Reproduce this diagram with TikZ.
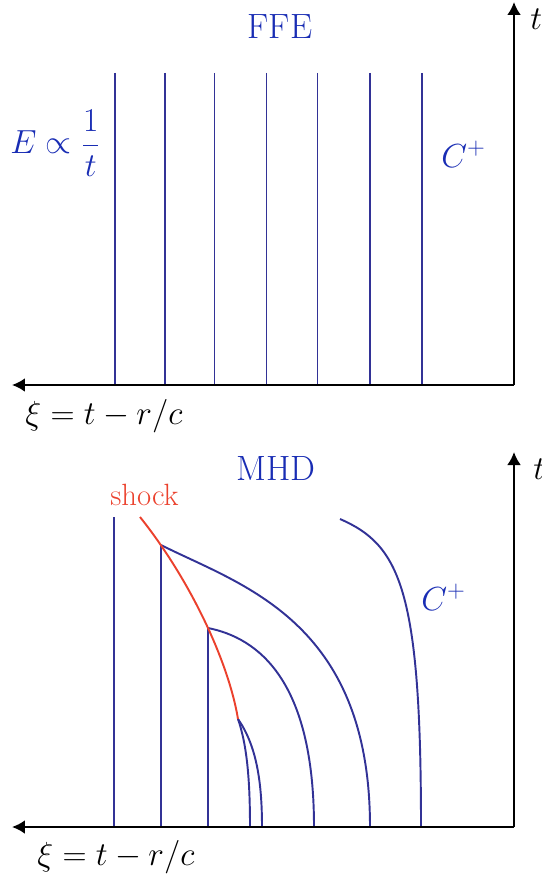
\RequirePackage{fix-cm}
\documentclass[tikz,border=0pt]{standalone}
\usetikzlibrary{arrows.meta}
\definecolor{charblue}{RGB}{50,50,150}
\definecolor{txtblue}{RGB}{25,45,180}
\definecolor{shockred}{RGB}{235,65,45}
\tikzset{
    charline/.style={draw=charblue, line width=1.1pt},
    shockline/.style={draw=shockred, line width=1.1pt},
    axisline/.style={draw=black, line width=1.4pt, -{Latex[length=2.6mm,width=2.8mm]}},
    lbl/.style={text=txtblue, inner sep=0pt},
    title/.style={lbl, anchor=base, font=\fontsize{20}{24}\selectfont},
}

\begin{document}
\begin{tikzpicture}[x=0.02cm,y=-0.02cm,every node/.style={font=\fontsize{19}{23}\selectfont}]
        \useasboundingbox (0,0) rectangle (541,875);
        % FFE panel
        \coordinate (o1) at (514,385);
        \coordinate (ttip1) at (514,2);
        \coordinate (xtip1) at (12,385);
        \foreach \x in {115,165,214.5,266.5,317.5,370,422}
            \draw[charline] (\x,73) -- (\x,385);
        \draw[axisline] (o1) -- (ttip1);
        \draw[axisline] (o1) -- (xtip1);
        \node[title] (ffe) at (280,39) {FFE};
        \node[lbl, anchor=west] (efield) at (10,143) {$\displaystyle E\propto\frac{1}{t}$};
        \node[lbl, anchor=base west] (cplusa) at (441,167) {$C^+$};
        \node[anchor=base west, inner sep=0pt] (xilaba) at (25,424) {$\xi=t-r/c$};
        \node[anchor=base west, inner sep=0pt] (tlaba) at (530,30) {$t$};
        % MHD panel
        \coordinate (o2) at (514,827);
        \coordinate (ttip2) at (514,452);
        \coordinate (xtip2) at (12,827);
        \coordinate (s0) at (140,517);
        \coordinate (s1) at (161,545);
        \coordinate (s2) at (208,628);
        \coordinate (s3) at (238,719);
        \draw[charline] (114,517) -- (114,827);
        \draw[charline] (s1) -- (161,827);
        \draw[charline] (s2) -- (208,827);
        \draw[charline] (s1) .. controls (240,585) and (370,620) .. (370,827);
        \draw[charline] (s2) .. controls (258,638) and (314,680) .. (314,827);
        \draw[charline] (s3) .. controls (247,745) and (250,780) .. (250,827);
        \draw[charline] (s3) .. controls (256,745) and (262,780) .. (262,827);
        \draw[charline] (340,519) .. controls (400,545) and (421,590) .. (421,827);
        \draw[shockline] (s0) .. controls (188,577) and (228,659) .. (s3);
        \draw[axisline] (o2) -- (ttip2);
        \draw[axisline] (o2) -- (xtip2);
        \node[title] (mhd) at (276,480) {MHD};
        \node[anchor=base west, inner sep=0pt, text=shockred, font=\fontsize{17.5}{21}\selectfont] (shock) at (110,505) {shock};
        \node[lbl, anchor=base west] (cplusb) at (421,610) {$C^+$};
        \node[anchor=base west, inner sep=0pt] (xilabb) at (37,865) {$\xi=t-r/c$};
        \node[anchor=base west, inner sep=0pt] (tlabb) at (533,479) {$t$};
\end{tikzpicture}
\end{document}
